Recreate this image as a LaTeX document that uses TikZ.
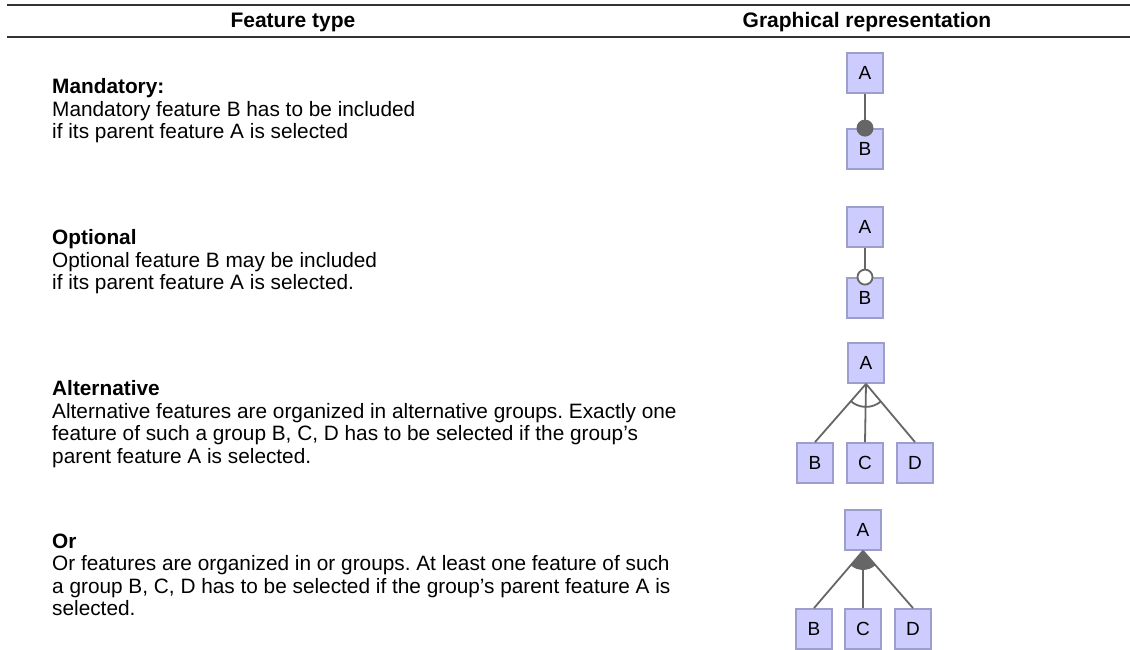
\documentclass[tikz,border=0pt]{standalone}
\usepackage{fontspec}
\setmainfont{Liberation Sans}
\usetikzlibrary{calc}
\frenchspacing
\definecolor{boxfill}{HTML}{CCCCFF}
\definecolor{boxline}{HTML}{9E9ECC}
\definecolor{edge}{HTML}{666666}
\definecolor{rule}{HTML}{333333}
\begin{document}
\begin{tikzpicture}[x=1pt,y=1pt,
  feat/.style={draw=boxline,fill=boxfill,line width=1.8pt,minimum width=36pt,minimum height=40pt,inner sep=0pt,font=\fontsize{19}{19}\selectfont},
  link/.style={draw=edge,line width=1.8pt},
  head/.style={font=\bfseries\fontsize{21}{23}\selectfont,anchor=base,inner sep=0pt},
  desc/.style={align=left,anchor=north west,inner sep=0pt,font=\fontsize{20.8}{22.5}\selectfont}]
\useasboundingbox (0,0) rectangle (1130,-650);

% table rules and column heads
\draw[rule,line width=2pt] (7,-5) -- (1130,-5);
\draw[rule,line width=1.6pt] (7,-37) -- (1130,-37);
\node[head] (h1) at (293,-28) {Feature type};
\node[head] (h2) at (867,-28) {Graphical representation};

% descriptions
\node[desc] (t1) at (52,-78.6) {\textbf{Mandatory:}\\Mandatory feature B has to be included\\if its parent feature A is selected};
\node[desc] (t2) at (52,-229.6) {\textbf{Optional}\\Optional feature B may be included\\if its parent feature A is selected.};
\node[desc] (t3) at (52,-380.6) {\textbf{Alternative}\\Alternative features are organized in alternative groups. Exactly one\\feature of such a group B, C, D has to be selected if the group’s\\parent feature A is selected.};
\node[desc] (t4) at (52,-533.6) {\textbf{Or}\\Or features are organized in or groups. At least one feature of such\\a group B, C, D has to be selected if the group’s parent feature A is\\selected.};

% mandatory
\node[feat] (ma) at (865,-73) {A};
\node[feat] (mb) at (865,-149) {B};
\draw[link] (ma.south) -- (mb.north);
\fill[edge] (mb.north) circle (8.5pt);

% optional
\node[feat] (oa) at (865,-227) {A};
\node[feat] (ob) at (865,-298) {B};
\draw[link] (oa.south) -- (ob.north);
\draw[link,fill=white] (ob.north) circle (7.5pt);

% alternative group
\node[feat] (aa) at (866,-363) {A};
\node[feat] (ab) at (815,-463) {B};
\node[feat] (ac) at (865,-463) {C};
\node[feat] (ad) at (915,-463) {D};
\foreach \c in {ab,ac,ad} \draw[link] (aa.south) -- (\c.north);
\draw[link] let \p1=($(ab.north)-(aa.south)$), \p2=($(ad.north)-(aa.south)$),
  \n1={atan2(\y1,\x1)}, \n2={atan2(\y2,\x2)} in
  ($(aa.south)+(\n1:23pt)$) arc[start angle=\n1,end angle=\n2,radius=23pt];

% or group
\node[feat] (ra) at (863,-530) {A};
\node[feat] (rb) at (814,-629) {B};
\node[feat] (rc) at (863,-629) {C};
\node[feat] (rd) at (913,-629) {D};
\foreach \c in {rb,rc,rd} \draw[link] (ra.south) -- (\c.north);
\fill[edge] let \p1=($(rb.north)-(ra.south)$), \p2=($(rd.north)-(ra.south)$),
  \n1={atan2(\y1,\x1)}, \n2={atan2(\y2,\x2)} in
  (ra.south) -- ($(ra.south)+(\n1:19pt)$) arc[start angle=\n1,end angle=\n2,radius=19pt] -- cycle;
\end{tikzpicture}
\end{document}
